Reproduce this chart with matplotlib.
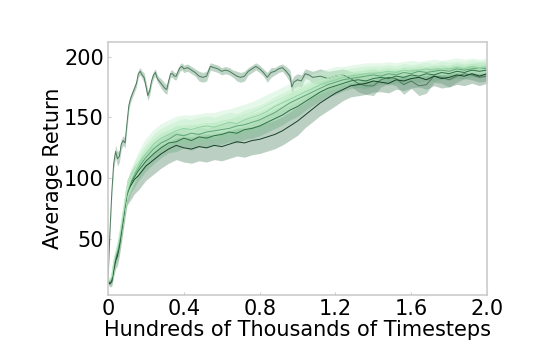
import matplotlib
matplotlib.use("Agg")
import matplotlib.pyplot as plt  # noqa: E402
import numpy as np  # noqa: E402

# fast-learning run (grey-green, top curve)
x_fast = [0.00, 0.01, 0.02, 0.03, 0.04, 0.05, 0.06, 0.07, 0.08, 0.09,
          0.10, 0.11, 0.12, 0.13, 0.14, 0.15, 0.16, 0.17, 0.18, 0.19,
          0.20, 0.21, 0.22, 0.23, 0.24, 0.25, 0.26, 0.27, 0.28, 0.29,
          0.30, 0.31, 0.32, 0.33, 0.34, 0.35, 0.36, 0.37, 0.38, 0.39,
          0.40, 0.42, 0.44, 0.46, 0.48, 0.50, 0.52, 0.54, 0.56, 0.58,
          0.60, 0.62, 0.64, 0.66, 0.68, 0.70, 0.72, 0.74, 0.76, 0.78,
          0.80, 0.82, 0.84, 0.86, 0.88, 0.90, 0.92, 0.94, 0.96, 0.97,
          0.98, 1.00, 1.02, 1.04, 1.06, 1.08, 1.12, 1.16, 1.20, 1.24,
          1.28, 1.32, 1.36, 1.40, 1.44, 1.48, 1.52, 1.56, 1.60, 1.64,
          1.68, 1.72, 1.76, 1.80, 1.84, 1.88, 1.92, 1.96, 2.00]
y_fast = [16, 55, 88, 112, 122, 116, 118, 128, 131, 129,
          145, 160, 166, 170, 174, 178, 186, 188, 185, 183,
          176, 168, 172, 180, 185, 187, 182, 180, 178, 176,
          174, 173, 180, 186, 186, 184, 184, 188, 191, 192,
          190, 191, 189, 187, 184, 183, 184, 192, 191, 190,
          188, 189, 188, 186, 184, 183, 184, 188, 190, 192,
          190, 187, 183, 187, 188, 190, 191, 188, 184, 175,
          179, 181, 180, 186, 185, 183, 184, 182, 184, 185,
          182, 178, 176, 176, 181, 183, 182, 177, 180, 176,
          177, 184, 183, 181, 184, 186, 185, 183, 184]
err_fast = [1, 2, 3, 4, 5, 6, 5, 4, 4, 4,
            4, 4, 3, 3, 3, 3, 3, 3, 3, 4,
            4, 4, 4, 3, 3, 3, 3, 3, 4, 4,
            4, 4, 3, 3, 3, 3, 3, 3, 3, 3,
            3, 3, 3, 3, 4, 4, 4, 3, 3, 3,
            3, 3, 3, 3, 4, 4, 4, 3, 3, 3,
            3, 3, 4, 4, 3, 3, 3, 4, 5, 6,
            5, 5, 5, 4, 4, 5, 6, 6, 5, 5,
            6, 7, 7, 8, 6, 5, 6, 8, 6, 8,
            7, 5, 5, 6, 5, 4, 4, 4, 4]

# five slower runs, shared timestep grid
x_slow = [0.00, 0.01, 0.02, 0.03, 0.04, 0.05, 0.06, 0.07, 0.08, 0.09, 0.10,
          0.12, 0.14, 0.16, 0.18, 0.20,
          0.24, 0.28, 0.32, 0.36, 0.40, 0.44, 0.48, 0.52, 0.56, 0.60,
          0.64, 0.68, 0.72, 0.76, 0.80, 0.84, 0.88, 0.92, 0.96, 1.00,
          1.04, 1.08, 1.12, 1.16, 1.20, 1.24, 1.28, 1.32, 1.36, 1.40,
          1.44, 1.48, 1.52, 1.56, 1.60, 1.64, 1.68, 1.72, 1.76, 1.80,
          1.84, 1.88, 1.92, 1.96, 2.00]
y_run1 = [15, 13, 15, 24, 32, 36, 44, 55, 66, 78, 88,
          94, 99, 102, 106, 110,
          115, 120, 124, 127, 125, 124, 126, 125, 127, 126,
          128, 130, 129, 131, 132, 134, 136, 139, 143, 147,
          152, 157, 162, 166, 170, 173, 176, 177, 178, 180,
          179, 178, 181, 180, 182, 183, 181, 184, 182, 183,
          185, 184, 186, 184, 186]
y_run2 = [16, 14, 16, 26, 34, 38, 45, 56, 66, 77, 86,
          96, 101, 106, 110, 114,
          120, 125, 129, 130, 133, 131, 134, 133, 135, 136,
          138, 137, 140, 141, 143, 146, 149, 152, 156, 159,
          163, 167, 171, 174, 176, 178, 180, 181, 180, 182,
          183, 182, 184, 183, 185, 184, 186, 185, 187, 186,
          188, 187, 189, 188, 189]
y_run3 = [15, 15, 18, 28, 36, 40, 48, 58, 68, 78, 87,
          97, 103, 108, 113, 117,
          124, 129, 132, 136, 135, 137, 136, 138, 139, 140,
          141, 143, 144, 146, 148, 151, 154, 158, 162, 165,
          168, 171, 174, 177, 179, 181, 182, 183, 184, 185,
          184, 186, 185, 187, 186, 188, 187, 188, 189, 188,
          190, 189, 190, 191, 190]
y_run4 = [16, 15, 19, 30, 37, 42, 50, 60, 70, 80, 89,
          98, 105, 111, 116, 120,
          128, 133, 136, 139, 141, 140, 142, 143, 142, 144,
          146, 145, 148, 150, 152, 155, 159, 162, 165, 168,
          171, 174, 177, 179, 181, 183, 184, 185, 186, 186,
          187, 188, 187, 189, 188, 189, 190, 189, 191, 190,
          191, 190, 192, 191, 192]
y_run5 = [17, 16, 20, 31, 38, 44, 52, 62, 72, 82, 90,
          99, 106, 113, 119, 124,
          131, 136, 139, 142, 143, 143, 144, 145, 145, 147,
          148, 150, 152, 154, 157, 160, 163, 166, 169, 172,
          175, 178, 180, 182, 184, 185, 186, 187, 188, 188,
          189, 190, 189, 190, 191, 190, 191, 192, 191, 192,
          193, 192, 193, 192, 193]
# band half-width profile for the slow runs, scaled per run
err_profile = [2, 2, 3, 4, 5, 6, 6, 7, 7, 8, 8,
               9, 9, 9, 9, 9,
               9, 9, 9, 9, 9, 9, 9, 9, 9, 9,
               9, 9, 9, 9, 9, 9, 9, 9, 9, 9,
               8, 8, 8, 8, 8, 7, 7, 7, 7, 7,
               6, 6, 6, 6, 6, 6, 6, 6, 6, 6,
               6, 6, 6, 6, 6]
err_scale = [1.3, 0.9, 0.8, 0.9, 1.0]

slow_runs = [y_run1, y_run2, y_run3, y_run4, y_run5]
line_colors = ["#173f27", "#2f6e45", "#5fa574", "#8fd3a0", "#bfeec6"]
band_colors = ["#6a957b", "#6fae82", "#8ccf9c", "#a9e2b3", "#c8f0cf"]
band_alpha = [0.45, 0.4, 0.35, 0.35, 0.45]

plt.rcParams.update({"font.size": 15})
fig = plt.figure(figsize=(5.4, 3.6), dpi=100)
ax = fig.add_axes([0.2, 0.181, 0.702, 0.702])

xf = np.array(x_fast)
yf = np.array(y_fast)
ef = np.array(err_fast)
ax.fill_between(xf, yf - ef, yf + ef, color="#93b8a0", alpha=0.6, lw=0)
ax.plot(xf, yf, color="#4d7a5c", lw=0.7)

xs = np.array(x_slow)
prof = np.array(err_profile, dtype=float)
for run, s, lc, bc, a in zip(slow_runs, err_scale, line_colors, band_colors, band_alpha):
    y = np.array(run, dtype=float)
    e = prof * s
    ax.fill_between(xs, y - e, y + e, color=bc, alpha=a, lw=0)
    ax.plot(xs, y, color=lc, lw=0.7)

ax.set_xlim(0, 2.0)
ax.set_ylim(4, 212)
ax.set_xticks([0, 0.4, 0.8, 1.2, 1.6, 2.0])
ax.set_xticklabels(["0", "0.4", "0.8", "1.2", "1.6", "2.0"])
ax.set_yticks([50, 100, 150, 200])
ax.tick_params(direction="in", length=2, color="#cccccc", labelsize=15, pad=3)
for sp in ax.spines.values():
    sp.set_color("#cccccc")
    sp.set_linewidth(1.2)
ax.set_xlabel("Hundreds of Thousands of Timesteps", fontsize=15, labelpad=1)
ax.set_ylabel("Average Return", fontsize=15, labelpad=1)

fig.savefig("out.png", dpi=100)
